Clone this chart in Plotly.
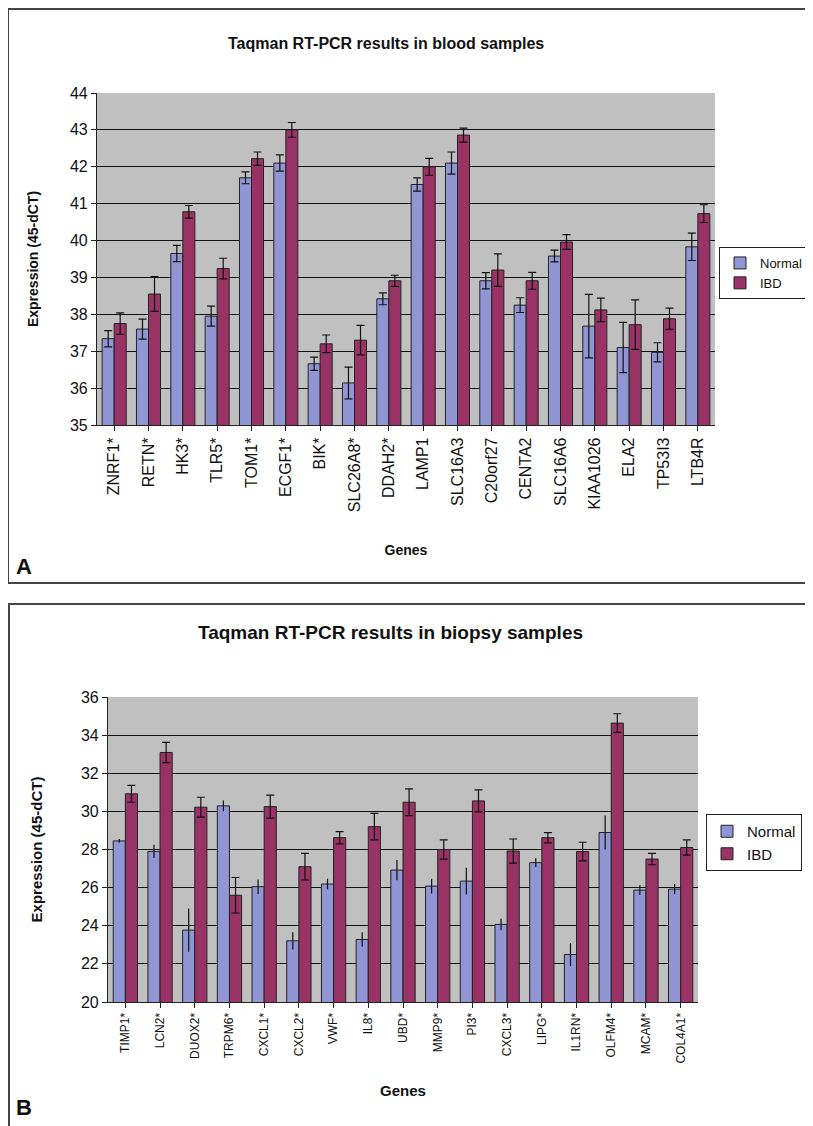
import plotly.graph_objects as go

# page body keeps a default 8px margin, so the figure is drawn 8px in from the top-left corner
OFF = 8
W, H = 813 - OFF, 1126 - OFF

# ---- Panel A data (blood) ----
genes_a = ["ZNRF1*", "RETN*", "HK3*", "TLR5*", "TOM1*", "ECGF1*", "BIK*", "SLC26A8*",
           "DDAH2*", "LAMP1", "SLC16A3", "C20orf27", "CENTA2", "SLC16A6", "KIAA1026",
           "ELA2", "TP53I3", "LTB4R"]
normal_a = [37.34, 37.60, 39.65, 37.95, 41.70, 42.10, 36.66, 36.14,
            38.42, 41.52, 42.10, 38.91, 38.25, 39.58, 37.68, 37.10, 36.97, 39.83]
normal_a_err = [0.22, 0.27, 0.22, 0.27, 0.16, 0.22, 0.18, 0.43,
                0.16, 0.18, 0.30, 0.22, 0.20, 0.16, 0.86, 0.68, 0.26, 0.37]
ibd_a = [37.75, 38.55, 40.78, 39.24, 42.22, 43.00, 37.20, 37.30,
         38.91, 42.00, 42.86, 39.20, 38.91, 39.96, 38.12, 37.72, 37.88, 40.73]
ibd_a_err = [0.29, 0.47, 0.17, 0.28, 0.18, 0.20, 0.24, 0.40,
             0.15, 0.23, 0.19, 0.44, 0.23, 0.20, 0.32, 0.67, 0.29, 0.24]

# ---- Panel B data (biopsy) ----
genes_b = ["TIMP1*", "LCN2*", "DUOX2*", "TRPM6*", "CXCL1*", "CXCL2*", "VWF*", "IL8*",
           "UBD*", "MMP9*", "PI3*", "CXCL3*", "LIPG*", "IL1RN*", "OLFM4*", "MCAM*", "COL4A1*"]
normal_b = [28.45, 27.90, 23.77, 30.29, 26.05, 23.21, 26.19, 23.28,
            26.92, 26.08, 26.34, 24.07, 27.31, 22.49, 28.89, 25.87, 25.92]
normal_b_err = [0.10, 0.35, 1.13, 0.28, 0.38, 0.45, 0.28, 0.38,
                0.53, 0.39, 0.70, 0.30, 0.23, 0.61, 0.89, 0.26, 0.27]
ibd_b = [30.92, 33.09, 30.22, 25.60, 30.25, 27.10, 28.62, 29.20,
         30.48, 28.00, 30.55, 27.92, 28.62, 27.89, 34.63, 27.50, 28.10]
ibd_b_err = [0.44, 0.53, 0.52, 0.93, 0.60, 0.70, 0.32, 0.70,
             0.70, 0.50, 0.58, 0.63, 0.27, 0.49, 0.49, 0.30, 0.40]

NORMAL_C = "#9096D4"
IBD_C = "#993366"
FONT = "Liberation Sans, Arial, sans-serif"

def px(x):
    return (x - OFF) / W

def py(y):
    return 1 - (y - OFF) / H

fig = go.Figure()

fig.add_trace(go.Bar(x=genes_a, y=normal_a, name="Normal", marker=dict(color=NORMAL_C, line=dict(color="#222", width=1)),
                     error_y=dict(type="data", array=normal_a_err, color="#111", thickness=1.2, width=4),
                     xaxis="x", yaxis="y", legend="legend"))
fig.add_trace(go.Bar(x=genes_a, y=ibd_a, name="IBD", marker=dict(color=IBD_C, line=dict(color="#222", width=1)),
                     error_y=dict(type="data", array=ibd_a_err, color="#111", thickness=1.2, width=4),
                     xaxis="x", yaxis="y", legend="legend"))
fig.add_trace(go.Bar(x=genes_b, y=normal_b, name="Normal", marker=dict(color=NORMAL_C, line=dict(color="#222", width=1)),
                     error_y=dict(type="data", array=normal_b_err, color="#111", thickness=1.2, width=0),
                     xaxis="x2", yaxis="y2", legend="legend2"))
fig.add_trace(go.Bar(x=genes_b, y=ibd_b, name="IBD", marker=dict(color=IBD_C, line=dict(color="#222", width=1)),
                     error_y=dict(type="data", array=ibd_b_err, color="#111", thickness=1.2, width=4),
                     xaxis="x2", yaxis="y2", legend="legend2"))

axis_common = dict(showline=True, linecolor="#222", linewidth=1.2, ticks="outside",
                   ticklen=5, tickcolor="#222", mirror=False)

fig.update_layout(
    width=W, height=H,
    margin=dict(l=0, r=0, t=0, b=0, autoexpand=False),
    paper_bgcolor="white",
    plot_bgcolor="#C0C0C0",
    barmode="group",
    bargap=0.3,
    bargroupgap=0.0,
    font=dict(family=FONT, color="#111"),
    xaxis=dict(domain=[px(97), px(715)], anchor="y", tickangle=-90,
               tickfont=dict(size=16, family=FONT), showgrid=False,
               title=dict(text="<b>Genes</b>", font=dict(size=14), standoff=33), **axis_common),
    yaxis=dict(domain=[py(425), py(93)], anchor="x", range=[35, 44], dtick=1,
               tickfont=dict(size=16, family=FONT), showgrid=True, gridcolor="#111", gridwidth=1.2,
               title=dict(text="<b>Expression (45-dCT)</b>", font=dict(size=14), standoff=28), **axis_common),
    xaxis2=dict(domain=[px(108), px(698)], anchor="y2", tickangle=-90,
                tickfont=dict(size=12, family=FONT), showgrid=False,
                title=dict(text="<b>Genes</b>", font=dict(size=15), standoff=22), **axis_common),
    yaxis2=dict(domain=[py(1002), py(697)], anchor="x2", range=[20, 36], dtick=2,
                tickfont=dict(size=16, family=FONT), showgrid=True, gridcolor="#111", gridwidth=1.2,
                title=dict(text="<b>Expression (45-dCT)</b>", font=dict(size=15), standoff=34), **axis_common),
    legend=dict(x=px(719), y=py(247), xanchor="left", yanchor="top",
                bgcolor="white", bordercolor="#222", borderwidth=1,
                font=dict(size=13, family=FONT), tracegroupgap=2, itemwidth=30),
    legend2=dict(x=px(706), y=py(814), xanchor="left", yanchor="top",
                 bgcolor="white", bordercolor="#222", borderwidth=1,
                 font=dict(size=15, family=FONT), tracegroupgap=2, itemwidth=30),
)

fig.update_layout(
    shapes=[
        dict(type="rect", xref="paper", yref="paper", x0=px(8), x1=px(830), y0=py(583), y1=py(9),
             line=dict(color="#444", width=2), fillcolor="rgba(0,0,0,0)", layer="below"),
        dict(type="rect", xref="paper", yref="paper", x0=px(9), x1=px(830), y0=py(1140), y1=py(604),
             line=dict(color="#444", width=2), fillcolor="rgba(0,0,0,0)", layer="below"),
    ],
    annotations=[
        dict(text="<b>Taqman RT-PCR results in blood samples</b>", xref="paper", yref="paper",
             x=px(386), y=py(44), xanchor="center", yanchor="middle", showarrow=False,
             font=dict(size=16, family=FONT)),
        dict(text="<b>Taqman RT-PCR results in biopsy samples</b>", xref="paper", yref="paper",
             x=px(390), y=py(632), xanchor="center", yanchor="middle", showarrow=False,
             font=dict(size=19, family=FONT)),
        dict(text="<b>A</b>", xref="paper", yref="paper", x=px(24), y=py(566), xanchor="center",
             yanchor="middle", showarrow=False, font=dict(size=22, family=FONT)),
        dict(text="<b>B</b>", xref="paper", yref="paper", x=px(24), y=py(1107), xanchor="center",
             yanchor="middle", showarrow=False, font=dict(size=22, family=FONT)),
    ],
)

fig.write_html("out.html")
